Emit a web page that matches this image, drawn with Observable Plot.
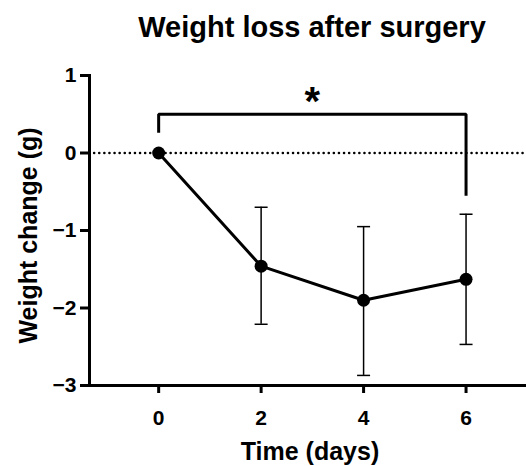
<!DOCTYPE html>
<html>
<head>
<meta charset="utf-8">
<script src="https://cdn.jsdelivr.net/npm/d3@7"></script>
<script src="https://cdn.jsdelivr.net/npm/@observablehq/plot@0.6"></script>
<style>
  html, body { margin: 0; padding: 0; background: #fff; }
  #chart { width: 526px; height: 466px; position: relative; }
  svg { font-family: "Liberation Sans", Arial, sans-serif; }
</style>
</head>
<body>
<div id="chart"></div>
<script>
// Data
const days = [0, 2, 4, 6];
const meanChange = [0, -1.46, -1.90, -1.63];
const upperBar = [0, -0.70, -0.95, -0.79];
const lowerBar = [0, -2.21, -2.87, -2.47];
const xTicks = [0, 2, 4, 6];
const yTicks = [1, 0, -1, -2, -3];
const bracketX = [0, 0, 6, 6];
const bracketY = [0.26, 0.5, 0.5, -0.55];
const starLabel = "*";
const starX = 3;
const starY = 0.78;
const titleText = "Weight loss after surgery";

const points = days.map((d, i) => ({day: d, mean: meanChange[i], hi: upperBar[i], lo: lowerBar[i]}));
const errPoints = points.filter(p => p.hi !== p.lo);
const caps = errPoints.flatMap(p => [{day: p.day, v: p.hi}, {day: p.day, v: p.lo}]);
const bracket = bracketX.map((x, i) => ({x, y: bracketY[i]}));

const fmt = d => d < 0 ? "\u2212" + Math.abs(d) : String(d);

const capSymbol = {
  draw(context, size) {
    const w = 6.5;
    context.moveTo(-w, 0);
    context.lineTo(w, 0);
  }
};

const chart = Plot.plot({
  width: 526,
  height: 466,
  marginLeft: 89,
  marginRight: 0,
  marginTop: 75,
  marginBottom: 81,
  x: {type: "linear", domain: [-1.35, 7.18]},
  y: {type: "linear", domain: [-3, 1]},
  style: {fontFamily: "'Liberation Sans', Arial, sans-serif", color: "#000", background: "#fff", overflow: "visible"},
  marks: [
    Plot.ruleY([0], {stroke: "#000", strokeWidth: 2.5, strokeDasharray: "0.1,5", strokeLinecap: "round"}),
    Plot.ruleX(errPoints, {x: "day", y1: "lo", y2: "hi", stroke: "#000", strokeWidth: 1.5}),
    Plot.dot(caps, {x: "day", y: "v", symbol: capSymbol, r: 6.5, stroke: "#000", strokeWidth: 1.5, fill: "none"}),
    Plot.line(points, {x: "day", y: "mean", stroke: "#000", strokeWidth: 3}),
    Plot.dot(points, {x: "day", y: "mean", r: 6.5, fill: "#000", stroke: "none"}),
    Plot.line(bracket, {x: "x", y: "y", stroke: "#000", strokeWidth: 3, strokeLinejoin: "miter", strokeLinecap: "butt"}),
    Plot.text([starLabel], {x: [starX], y: [starY], text: d => d, fontSize: 40, fontWeight: "bold", dy: 10}),
    Plot.text([titleText], {frameAnchor: "top", text: d => d, fontSize: 29, fontWeight: "bold", dy: -59, dx: 4}),
    Plot.axisX({ticks: xTicks, tickSize: 8, tickPadding: 17, fontSize: 21, fontWeight: "bold", strokeWidth: 3, label: null}),
    Plot.axisY({ticks: yTicks, tickSize: 9, tickPadding: 4, fontSize: 21, fontWeight: "bold", strokeWidth: 3, tickFormat: fmt, label: null}),
    Plot.frame({anchor: "left", strokeWidth: 3}),
    Plot.frame({anchor: "bottom", strokeWidth: 3}),
    Plot.text(["Time (days)"], {frameAnchor: "bottom", text: d => d, fontSize: 25, fontWeight: "bold", dy: 74, dx: 2}),
    Plot.text(["Weight change (g)"], {frameAnchor: "left", textAnchor: "middle", text: d => d, fontSize: 25, fontWeight: "bold", rotate: -90, dx: -61, dy: 5})
  ]
});
document.getElementById("chart").appendChild(chart);
</script>
</body>
</html>
